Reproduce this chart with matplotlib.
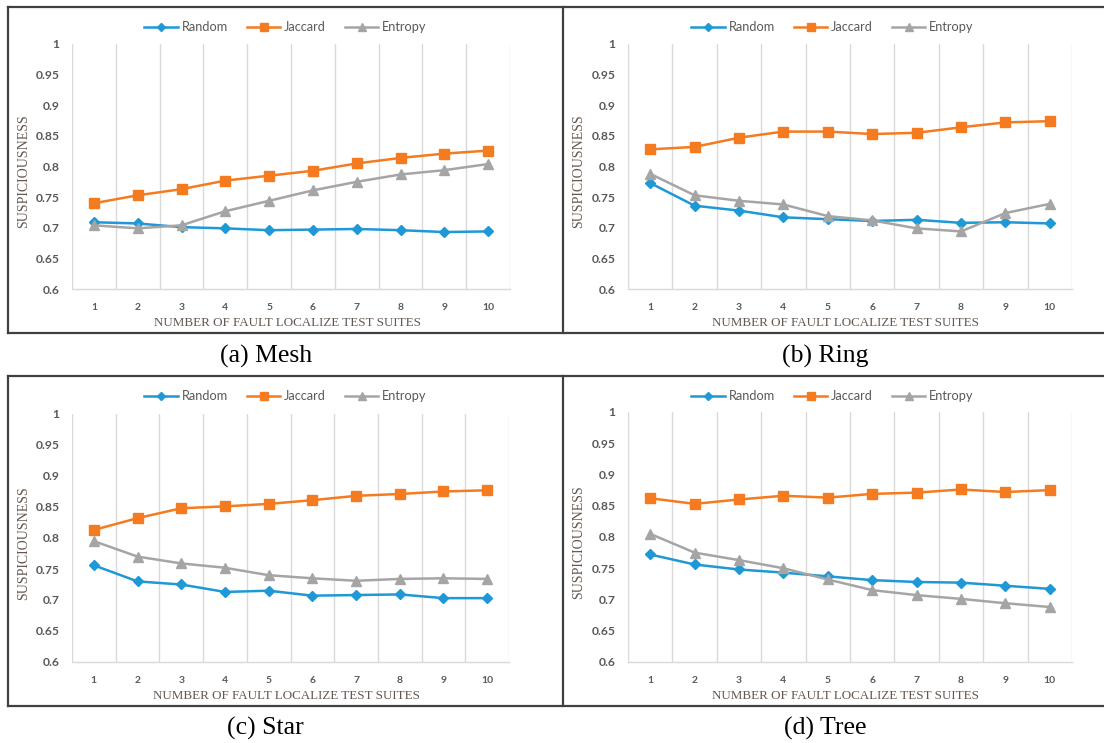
import matplotlib
matplotlib.use("Agg")
import matplotlib.pyplot as plt
from matplotlib.lines import Line2D

W, H = 1104, 743

suites = [1, 2, 3, 4, 5, 6, 7, 8, 9, 10]
series_names = ["Random", "Jaccard", "Entropy"]
captions = ["(a) Mesh", "(b) Ring", "(c) Star", "(d) Tree"]

mesh_random = [0.709, 0.707, 0.701, 0.699, 0.696, 0.697, 0.698, 0.696, 0.693, 0.694]
mesh_jaccard = [0.740, 0.753, 0.763, 0.777, 0.785, 0.793, 0.805, 0.814, 0.821, 0.826]
mesh_entropy = [0.704, 0.699, 0.704, 0.727, 0.744, 0.761, 0.775, 0.787, 0.794, 0.804]

ring_random = [0.773, 0.736, 0.728, 0.717, 0.714, 0.711, 0.713, 0.708, 0.709, 0.707]
ring_jaccard = [0.828, 0.832, 0.847, 0.857, 0.857, 0.853, 0.855, 0.864, 0.872, 0.874]
ring_entropy = [0.788, 0.753, 0.744, 0.738, 0.719, 0.712, 0.699, 0.694, 0.724, 0.739]

star_random = [0.756, 0.730, 0.725, 0.713, 0.715, 0.707, 0.708, 0.709, 0.703, 0.703]
star_jaccard = [0.813, 0.832, 0.848, 0.851, 0.855, 0.861, 0.868, 0.871, 0.875, 0.877]
star_entropy = [0.795, 0.770, 0.759, 0.752, 0.740, 0.735, 0.731, 0.734, 0.735, 0.734]

tree_random = [0.772, 0.756, 0.748, 0.743, 0.737, 0.731, 0.728, 0.727, 0.722, 0.717]
tree_jaccard = [0.862, 0.853, 0.860, 0.866, 0.863, 0.869, 0.871, 0.876, 0.872, 0.875]
tree_entropy = [0.805, 0.775, 0.763, 0.750, 0.732, 0.715, 0.707, 0.701, 0.694, 0.688]

y_ticks = [0.6, 0.65, 0.7, 0.75, 0.8, 0.85, 0.9, 0.95, 1.0]
y_tick_labels = ["0.6", "0.65", "0.7", "0.75", "0.8", "0.85", "0.9", "0.95", "1"]
x_label = "NUMBER OF FAULT LOCALIZE TEST SUITES"
y_label = "SUSPICIOUSNESS"

panels = [
    (mesh_random, mesh_jaccard, mesh_entropy),
    (ring_random, ring_jaccard, ring_entropy),
    (star_random, star_jaccard, star_entropy),
    (tree_random, tree_jaccard, tree_entropy),
]

colors = ["#1f98d6", "#f47b20", "#a5a5a5"]
markers = ["D", "s", "^"]
msizes = [5.5, 7, 7]

# pixel layout: (left, right, top, bottom) of plot areas; box extents
axes_px = [
    (72, 510, 44, 289),
    (628, 1072, 44, 289),
    (72, 509, 414, 662),
    (628, 1072, 412, 662),
]
box_px = [(8, 563, 7, 333), (563, 1104, 7, 333), (8, 563, 376, 706), (563, 1104, 376, 706)]
caption_y = [356, 356, 728, 728]

fig = plt.figure(figsize=(W / 100, H / 100), dpi=100)
fig.patch.set_facecolor("white")

def fx(px):
    return px / W

def fy(py):
    return 1 - py / H

tick_color = "#595959"
label_color = "#65574f"
sans = ["Lato", "DejaVu Sans"]
serif = ["Liberation Serif", "DejaVu Serif"]

for i, (vals, (l, r, t, b), (bl, br, bt, bb)) in enumerate(zip(panels, axes_px, box_px)):
    ax = fig.add_axes([fx(l), fy(b), fx(r) - fx(l), fy(t) - fy(b)])
    for name, v, c, m, ms in zip(series_names, vals, colors, markers, msizes):
        ax.plot(suites, v, color=c, marker=m, markersize=ms, linewidth=1.8,
                label=name, zorder=3)
    ax.set_xlim(0.5, 10.5)
    ax.set_ylim(0.6, 1.0)
    ax.set_yticks(y_ticks)
    ax.set_yticklabels(y_tick_labels, fontfamily=sans, fontsize=8.7, color=tick_color,
                       fontweight="bold")
    ax.set_xticks(suites)
    ax.set_xticklabels([str(s) for s in suites], fontfamily=sans, fontsize=7.5,
                       color=tick_color, fontweight="bold")
    ax.set_xticks([s + 0.5 for s in [0] + suites], minor=True)
    ax.grid(True, which="minor", axis="x", color="#d9d9d9", linewidth=1.0, zorder=0)
    ax.tick_params(axis="both", which="both", length=0)
    ax.tick_params(axis="x", which="major", pad=10)
    ax.tick_params(axis="y", pad=9)
    for side in ["top", "right", "left"]:
        ax.spines[side].set_visible(False)
    ax.spines["bottom"].set_color("#d9d9d9")
    ax.spines["bottom"].set_linewidth(1.0)

    # axis labels placed in figure pixels
    cx = (l + r) / 2 - 4
    fig.text(fx(cx), fy(b + 34), x_label, ha="center", va="center",
             fontfamily=serif, fontsize=9.4, color=label_color)
    fig.text(fx(bl + 16), fy((t + b) / 2 + 5), y_label, ha="center", va="center",
             rotation=90, fontfamily=serif, fontsize=10, color=label_color)
    # legend centred on box
    handles = [Line2D([0], [0], color=c, marker=m, markersize=ms * 0.75, linewidth=1.8)
               for c, m, ms in zip(colors, markers, msizes)]
    leg = fig.legend(handles, series_names, loc="center",
                     bbox_to_anchor=(fx((bl + min(br, 1102)) / 2), fy(bt + 20)),
                     ncol=3, frameon=False, handlelength=2.6,
                     columnspacing=1.5, handletextpad=0.3,
                     prop={"family": sans, "size": 9.2})
    for txt in leg.get_texts():
        txt.set_color(tick_color)

    fig.text(fx((l + r) / 2 - 25), fy(caption_y[i]), captions[i], ha="center", va="center",
             fontfamily=serif, fontsize=18.5, color="black")

# border lines
bc = "#404040"
lw = 1.6
def hline(y, x0, x1):
    fig.add_artist(Line2D([fx(x0), fx(x1)], [fy(y), fy(y)], color=bc, linewidth=lw))
def vline(x, y0, y1):
    fig.add_artist(Line2D([fx(x), fx(x)], [fy(y0), fy(y1)], color=bc, linewidth=lw))

hline(7, 8, 1104)
hline(333, 8, 1104)
hline(376, 8, 1104)
hline(706, 8, 1104)
vline(8, 7, 333)
vline(563, 7, 333)
vline(8, 376, 706)
vline(563, 376, 706)

fig.savefig("out.png", dpi=100, facecolor="white")
